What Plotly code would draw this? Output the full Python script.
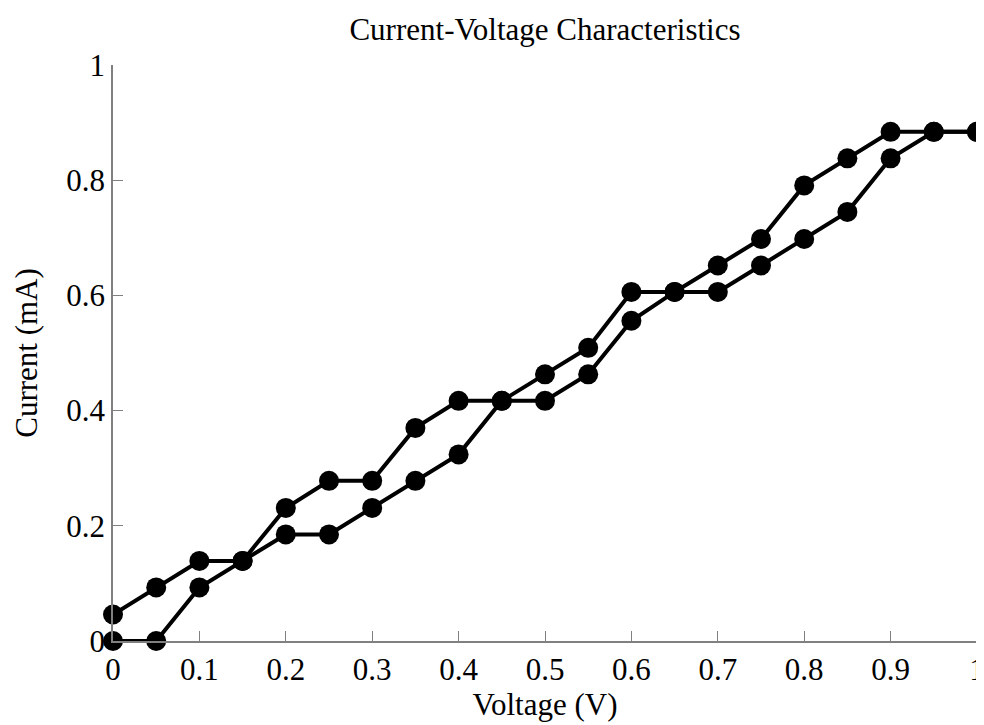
import plotly.graph_objects as go

voltage = [0, 0.05, 0.1, 0.15, 0.2, 0.25, 0.3, 0.35, 0.4, 0.45, 0.5, 0.55, 0.6, 0.65, 0.7, 0.75, 0.8, 0.85, 0.9, 0.95, 1.0]
current_a = [0.046, 0.093, 0.139, 0.139, 0.231, 0.278, 0.278, 0.370, 0.417, 0.417, 0.463, 0.509, 0.606, 0.606, 0.652, 0.698, 0.791, 0.838, 0.884, 0.884, 0.884]
current_b = [0.0, 0.0, 0.093, 0.139, 0.185, 0.185, 0.231, 0.278, 0.324, 0.417, 0.417, 0.463, 0.556, 0.606, 0.606, 0.652, 0.698, 0.745, 0.838, 0.884, 0.884]
x_ticks = [0, 0.1, 0.2, 0.3, 0.4, 0.5, 0.6, 0.7, 0.8, 0.9, 1]
x_tick_labels = ["0", "0.1", "0.2", "0.3", "0.4", "0.5", "0.6", "0.7", "0.8", "0.9", "1"]
y_ticks = [0, 0.2, 0.4, 0.6, 0.8, 1]
y_tick_labels = ["0", "0.2", "0.4", "0.6", "0.8", "1"]

FONT = "Liberation Serif, Times New Roman, serif"
FS = 31

fig = go.Figure()
for ys in (current_a, current_b):
    fig.add_trace(go.Scatter(
        x=voltage, y=ys, mode="lines+markers",
        line=dict(color="black", width=4),
        marker=dict(color="black", size=20),
        showlegend=False, cliponaxis=False,
    ))

# page body has an 8px margin, so the figure is sized to fit inside the window
W, H = 976, 717
fig.update_layout(
    width=W, height=H,
    margin=dict(l=105, r=7, t=57, b=84, autoexpand=False),
    paper_bgcolor="white", plot_bgcolor="white",
    font=dict(family=FONT, color="black"),
    title=dict(text="Current-Voltage Characteristics", x=0.5, xref="paper", xanchor="center",
               y=1 - 21 / H, yanchor="middle", automargin=False,
               font=dict(size=FS, family=FONT)),
    xaxis=dict(range=[0, 1], tickvals=x_ticks, ticktext=x_tick_labels, automargin=False,
               ticklabeloverflow="allow",
               showgrid=False, zeroline=False, showline=True, linecolor="#808080", linewidth=1.5,
               ticks="inside", ticklen=10, tickcolor="#808080", tickfont=dict(size=FS, family=FONT),
               title=dict(text="Voltage (V)", font=dict(size=FS, family=FONT), standoff=4)),
    yaxis=dict(range=[0, 1], tickvals=y_ticks, ticktext=y_tick_labels, automargin=False,
               ticklabeloverflow="allow",
               showgrid=False, zeroline=False, showline=True, linecolor="#808080", linewidth=1.5,
               ticks="inside", ticklen=10, tickcolor="#808080", tickfont=dict(size=FS, family=FONT),
               title=dict(text="Current (mA)", font=dict(size=FS, family=FONT), standoff=19)),
)

fig.write_html("out.html")
